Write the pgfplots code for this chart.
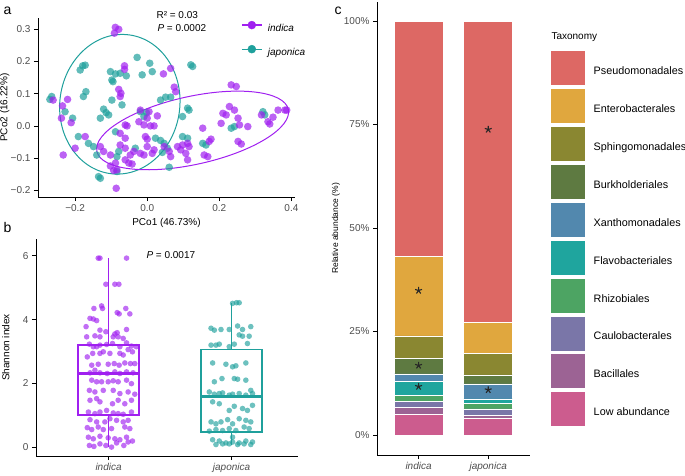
\documentclass[border=0pt]{standalone}
\usepackage{pgfplots}
\pgfplotsset{compat=1.18}
\usepgfplotslibrary{statistics}
\usepackage{fontspec}
\setmainfont{Liberation Sans}
\definecolor{purpleA}{HTML}{A020F0}
\definecolor{tealA}{HTML}{1FA09C}
\definecolor{gtick}{HTML}{4D4D4D}
\definecolor{cPseudo}{HTML}{DD6864}
\definecolor{cEntero}{HTML}{E0A73E}
\definecolor{cSphingo}{HTML}{8A8731}
\definecolor{cBurk}{HTML}{5E7A41}
\definecolor{cXantho}{HTML}{5288AE}
\definecolor{cFlavo}{HTML}{1FA59E}
\definecolor{cRhizo}{HTML}{4DA463}
\definecolor{cCaulo}{HTML}{7A76A8}
\definecolor{cBacil}{HTML}{9C6394}
\definecolor{cLow}{HTML}{CC5C8E}
\pgfplotsset{
  base/.style={scale only axis, axis lines=left, axis line style={-, line width=0.8pt, black},
    tick style={line width=0.8pt, black}, tick align=outside, major tick length=4pt,
    ticklabel style={font=\fontsize{10}{12}\selectfont, text=gtick},
    label style={font=\fontsize{10}{12}\selectfont}, clip=false,
    /pgf/number format/assume math mode=true},
  dotline legend/.style={legend image code/.code={\draw[##1,line width=1.2pt] (0pt,3.5pt) -- (20pt,3.5pt); \fill[##1] (10pt,3.5pt) circle (4pt);}},
  swatch legend/.style={legend image code/.code={\fill[##1] (0pt,-14pt) rectangle (35pt,21pt);}},
}
\begin{document}
\begin{tikzpicture}
\useasboundingbox (0,0) rectangle (685pt,475pt);
% ---------------- panel a
\begin{axis}[base, at={(38pt,278pt)}, anchor=south west, width=257pt, height=179pt,
  xmin=-0.303, xmax=0.41, ymin=-0.22, ymax=0.334,
  xtick={-0.2,0,0.2,0.4}, xticklabels={−0.2,0.0,0.2,0.4},
  ytick={-0.2,-0.1,0,0.1,0.2,0.3}, yticklabels={−0.2,−0.1,0.0,0.1,0.2,0.3},
  xlabel={PCo1 (46.73\%)}, ylabel={PCo2 (16.22\%)},
  ylabel style={at={(axis description cs:-0.097,0.5)}, anchor=south},
  legend style={at={(0.79,0.985)}, anchor=north west, draw=none, fill=none, inner sep=0pt,
    font=\fontsize{10}{12}\selectfont\itshape, row sep=11pt, nodes={inner sep=1pt},
    /tikz/every odd column/.append style={column sep=4.5pt}},
  legend cell align=left]
\addplot[only marks, mark=*, mark size=3.8pt, color=tealA, mark options={fill opacity=0.7, draw opacity=0}, forget plot] table {
-0.028 0.212
0.007 0.194
-0.014 0.158
0.014 0.168
0.121 0.189
0.126 0.184
-0.186 0.173
-0.179 0.186
-0.172 0.188
-0.102 0.168
-0.088 0.161
-0.075 0.163
-0.058 0.155
-0.098 0.142
-0.095 0.137
-0.170 0.106
-0.177 0.091
-0.270 0.082
-0.265 0.091
-0.228 0.044
-0.207 0.024
-0.121 0.052
-0.114 0.041
-0.130 0.024
-0.107 0.034
-0.098 0.080
-0.070 0.065
0.037 0.080
0.051 0.089
0.065 0.089
0.112 0.055
0.116 0.049
0.098 0.029
-0.019 0.044
-0.009 0.029
-0.002 0.041
-0.191 -0.033
-0.163 -0.054
-0.149 -0.064
-0.140 -0.090
-0.088 -0.018
-0.079 -0.079
-0.084 -0.095
-0.033 -0.069
0.023 -0.038
0.037 -0.045
0.047 -0.054
0.056 -0.069
0.042 -0.082
0.098 -0.033
0.112 -0.038
0.154 -0.054
0.163 -0.059
0.233 -0.007
0.242 -0.002
0.321 0.044
0.326 0.034
-0.135 -0.157
-0.130 -0.162
0.061 -0.128
-0.084 -0.141
};
\addplot[only marks, mark=*, mark size=3.8pt, color=purpleA, mark options={fill opacity=0.7, draw opacity=0}, forget plot] table {
-0.0885 0.305
-0.079 0.299
-0.091 0.287
-0.063 0.186
-0.063 0.175
-0.079 0.113
-0.075 0.091
-0.073 0.101
-0.261 0.080
-0.235 0.062
-0.221 0.082
-0.238 0.024
-0.211 0.010
-0.233 -0.090
-0.200 -0.069
-0.172 -0.033
0.045 0.161
0.065 0.178
0.075 0.120
0.079 0.106
-0.019 0.049
0.005 0.044
0.028 0.031
0.000 0.024
-0.023 0.013
-0.009 0.003
0.009 0.000
0.019 0.000
-0.061 0.003
-0.056 0.000
-0.075 -0.023
-0.061 -0.038
-0.005 -0.033
0.000 -0.041
-0.130 -0.064
-0.121 -0.079
-0.102 -0.090
-0.075 -0.059
-0.061 -0.069
-0.047 -0.090
-0.061 -0.105
-0.051 -0.115
-0.042 -0.118
-0.088 -0.115
-0.084 -0.136
-0.102 -0.124
-0.093 -0.138
-0.037 -0.079
-0.019 -0.085
-0.009 -0.090
0.014 -0.085
0.019 -0.074
0.000 -0.064
0.047 -0.064
0.061 -0.079
0.065 -0.095
0.084 -0.064
0.098 -0.059
0.112 -0.054
0.116 -0.064
0.093 -0.074
0.107 -0.085
0.112 -0.105
0.233 0.127
0.247 0.122
0.228 0.060
0.242 0.049
0.210 0.039
0.219 0.034
0.252 0.024
0.256 0.003
0.279 -0.002
0.205 0.008
0.154 -0.007
0.177 -0.041
0.172 -0.048
0.158 -0.090
0.168 -0.095
0.252 -0.048
0.261 -0.056
0.363 0.049
0.382 0.049
0.387 0.049
0.317 0.034
0.335 0.013
0.340 0.006
0.349 0.027
-0.086 -0.193
};
\draw[tealA, line width=1pt, rotate around={-8:(axis cs:-0.076,0.067)}] (axis cs:-0.076,0.067) ellipse [x radius=60pt, y radius=70pt];
\draw[purpleA, line width=1pt, rotate around={12.4:(axis cs:0.126,-0.014)}] (axis cs:0.126,-0.014) ellipse [x radius=98pt, y radius=34pt];
\addlegendimage{dotline legend, purpleA}
\addlegendentry{indica}
\addlegendimage{dotline legend, tealA}
\addlegendentry{japonica}
\end{axis}
% ---------------- panel b
\begin{axis}[base, at={(36pt,19pt)}, anchor=south west, width=262pt, height=217pt,
  xmin=0.41, xmax=2.54, ymin=-0.28, ymax=6.53,
  xtick={1,2}, xticklabels={\textit{indica},\textit{japonica}},
  ytick={0,2,4,6}, ylabel={Shannon index},
  ylabel style={at={(axis description cs:-0.088,0.5)}, anchor=south},
  boxplot/draw direction=y,
  boxplot/whisker extend=0, boxplot/box extend=0.5,
  boxplot/every box/.style={line width=1.8pt},
  boxplot/every whisker/.style={line width=1.8pt},
  boxplot/every median/.style={line width=3pt}]
\addplot[boxplot prepared={lower whisker=0.0, lower quartile=1.0, median=2.32, upper quartile=3.2, upper whisker=5.93, draw position=1}, draw=purpleA, line width=1.8pt, fill=none] coordinates {};
\addplot[boxplot prepared={lower whisker=0.08, lower quartile=0.47, median=1.6, upper quartile=3.06, upper whisker=4.53, draw position=2}, draw=tealA, line width=1.8pt, fill=none] coordinates {};
\addplot[only marks, mark=*, mark size=2.8pt, color=purpleA, mark options={fill opacity=0.65, draw opacity=0}] table {
0.916 5.93
0.930 5.93
1.146 5.93
0.978 5.11
1.051 5.11
1.084 5.11
0.881 4.35
0.951 4.35
0.943 4.43
1.140 4.35
1.070 4.22
1.086 4.18
1.173 4.18
0.849 4.04
0.876 4.02
0.903 3.97
0.817 3.78
0.930 3.67
0.978 3.62
1.070 3.59
1.078 3.46
1.146 3.69
0.822 3.46
0.889 3.49
0.930 3.46
1.038 3.46
1.051 3.55
1.119 3.41
1.146 3.27
1.186 3.17
1.226 3.15
0.844 3.23
0.876 3.15
0.903 3.15
0.930 3.20
0.984 3.22
1.032 3.25
1.092 3.15
1.159 3.06
0.827 2.83
0.871 2.94
0.930 2.94
0.957 2.99
1.011 2.94
1.092 2.94
1.119 2.89
1.194 2.99
0.863 2.57
0.916 2.60
0.997 2.60
1.046 2.62
1.086 2.57
1.132 2.64
1.178 2.62
1.213 2.62
0.849 2.33
0.889 2.41
0.930 2.33
0.989 2.31
1.051 2.36
1.092 2.31
1.146 2.36
1.199 2.33
0.863 2.10
0.903 2.05
0.943 2.05
0.997 2.05
1.038 2.08
1.078 2.05
1.146 2.10
1.186 1.99
0.844 1.78
0.889 1.73
0.957 1.78
1.038 1.78
1.092 1.68
1.159 1.73
1.213 1.66
0.849 1.47
0.903 1.52
0.930 1.42
1.032 1.36
1.078 1.47
1.132 1.36
1.186 1.47
0.836 1.10
0.889 1.05
0.930 1.10
0.984 1.15
1.038 1.07
1.078 1.05
1.119 1.03
1.186 1.10
0.849 0.86
0.903 0.79
0.970 0.79
1.011 0.89
1.065 0.84
1.119 0.79
1.159 0.84
0.827 0.61
0.863 0.55
0.916 0.63
0.957 0.55
1.024 0.58
1.132 0.63
1.173 0.58
0.836 0.31
0.876 0.26
0.930 0.34
0.997 0.29
1.051 0.26
1.092 0.23
1.146 0.31
1.194 0.19
0.844 0.05
0.881 0.02
0.930 0.10
0.978 0.05
1.024 0.00
1.065 0.13
1.124 0.05
1.159 0.16
};
\addplot[only marks, mark=*, mark size=2.8pt, color=tealA, mark options={fill opacity=0.65, draw opacity=0}] table {
2.008 4.51
2.040 4.53
2.062 4.53
1.833 3.73
1.860 3.67
1.914 3.69
1.981 3.69
2.049 3.80
2.089 3.69
2.156 3.78
2.143 3.48
1.833 3.20
1.873 3.20
1.900 3.23
1.981 3.15
2.022 3.23
2.062 3.52
2.089 3.48
2.129 3.25
1.846 2.64
1.954 2.60
2.008 2.52
2.035 2.55
2.116 2.64
1.860 2.05
1.922 2.15
2.022 2.15
2.049 2.13
2.116 2.10
2.156 1.78
1.819 1.73
1.860 1.66
1.900 1.68
1.927 1.70
1.981 1.63
2.008 1.66
2.062 1.68
2.116 1.63
2.170 1.68
1.846 1.42
1.900 1.36
1.981 1.15
2.022 1.28
2.089 1.21
2.129 1.15
2.170 1.31
1.833 0.79
1.873 0.73
1.914 0.79
1.968 0.86
2.008 0.73
2.062 0.89
2.116 0.84
2.156 0.79
1.819 0.50
1.873 0.55
1.927 0.52
1.981 0.58
2.035 0.52
2.102 0.63
2.143 0.58
1.846 0.23
1.900 0.19
1.954 0.13
2.008 0.16
2.062 0.13
2.116 0.19
2.170 0.16
2.008 0.31
1.873 0.08
1.927 0.10
1.981 0.10
2.049 0.08
2.102 0.10
2.156 0.08
};
\end{axis}
% ---------------- panel c
\begin{axis}[base, at={(377pt,20pt)}, anchor=south west, width=153pt, height=453pt,
  xmin=0.403, xmax=2.60, ymin=-4.83, ymax=104.6,
  ybar stacked, bar width=49pt,
  xtick={1,2}, xticklabels={\textit{indica},\textit{japonica}},
  ytick={0,25,50,75,100}, yticklabels={0\%,25\%,50\%,75\%,100\%},
  ylabel={Relative abundance (\%)}, ylabel style={font=\fontsize{8.5}{10}\selectfont, at={(axis description cs:-0.22,0.5)}, anchor=south},
  reverse legend, legend cell align=left,
  legend style={at={(1.131,0.894)}, anchor=north west, draw=none, fill=none, inner sep=0pt,
    font=\fontsize{10.8}{12}\selectfont, row sep=2.4pt, nodes={inner sep=1pt},
    /tikz/every odd column/.append style={column sep=7pt}}]
\addplot[fill=cLow, draw=white, line width=0.5pt, swatch legend] coordinates {(1,5.0) (2,4.0)};
\addlegendentry{Low abundance}
\addplot[fill=cBacil, draw=white, line width=0.5pt, swatch legend] coordinates {(1,1.7) (2,0.7)};
\addlegendentry{Bacillales}
\addplot[fill=cCaulo, draw=white, line width=0.5pt, swatch legend] coordinates {(1,1.4) (2,1.6)};
\addlegendentry{Caulobacterales}
\addplot[fill=cRhizo, draw=white, line width=0.5pt, swatch legend] coordinates {(1,1.5) (2,1.4)};
\addlegendentry{Rhizobiales}
\addplot[fill=cFlavo, draw=white, line width=0.5pt, swatch legend] coordinates {(1,3.3) (2,1.05)};
\addlegendentry{Flavobacteriales}
\addplot[fill=cXantho, draw=white, line width=0.5pt, swatch legend] coordinates {(1,1.85) (2,3.6)};
\addlegendentry{Xanthomonadales}
\addplot[fill=cBurk, draw=white, line width=0.5pt, swatch legend] coordinates {(1,3.7) (2,2.2)};
\addlegendentry{Burkholderiales}
\addplot[fill=cSphingo, draw=white, line width=0.5pt, swatch legend] coordinates {(1,5.5) (2,5.15)};
\addlegendentry{Sphingomonadales}
\addplot[fill=cEntero, draw=white, line width=0.5pt, swatch legend] coordinates {(1,19.2) (2,7.5)};
\addlegendentry{Enterobacterales}
\addplot[fill=cPseudo, draw=white, line width=0.5pt, swatch legend] coordinates {(1,56.85) (2,72.8)};
\addlegendentry{Pseudomonadales}
\end{axis}
\begin{axis}[at={(377pt,20pt)}, anchor=south west, scale only axis, width=153pt, height=453pt,
  xmin=0.403, xmax=2.60, ymin=-4.83, ymax=104.6, hide axis, clip=false]
\addplot[only marks, mark=star, mark size=3.6pt, line width=1.1pt, black!85] coordinates {(1,34.9) (1,16.8) (1,11.7) (2,73.8) (2,10.9)};
\end{axis}
% ---------------- annotations
\node[anchor=base west, font=\fontsize{14}{16}\selectfont] at (0pt,460pt) {a};
\node[anchor=base west, font=\fontsize{14}{16}\selectfont] at (0pt,243pt) {b};
\node[anchor=base west, font=\fontsize{14}{16}\selectfont] at (331pt,460pt) {c};
\node[anchor=base west, font=\fontsize{10}{12}\selectfont] at (153pt,456.5pt) {R² = 0.03};
\node[anchor=base west, font=\fontsize{10}{12}\selectfont] at (154pt,443pt) {\textit{P} = 0.0002};
\node[anchor=base west, font=\fontsize{10}{12}\selectfont] at (143pt,217pt) {\textit{P} = 0.0017};
\node[anchor=base west, font=\fontsize{10}{12}\selectfont] at (548pt,435pt) {Taxonomy};
\end{tikzpicture}
\end{document}
